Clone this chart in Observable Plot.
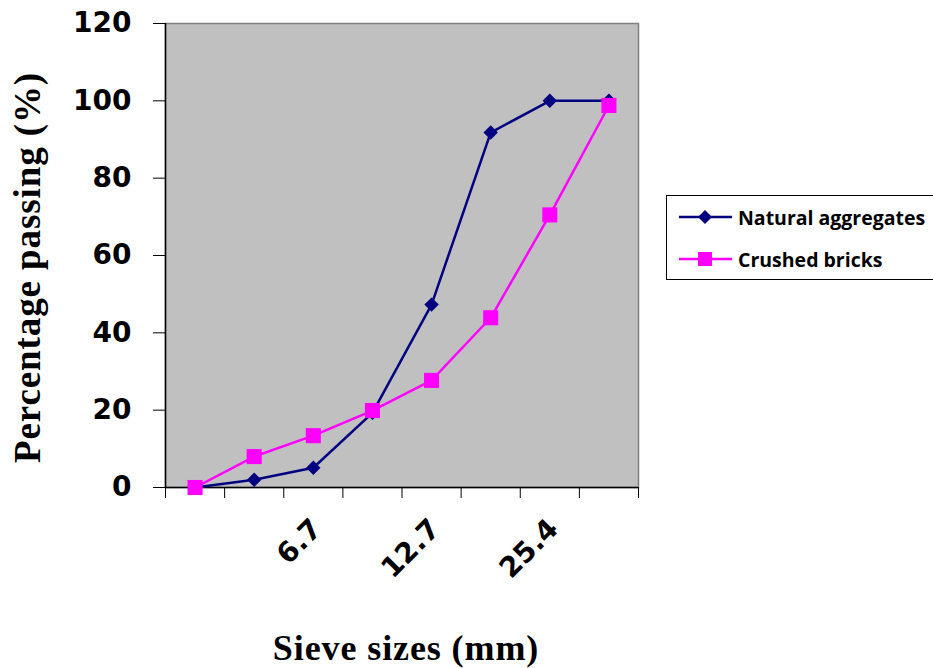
<!DOCTYPE html>
<html><head><meta charset="utf-8">
<script src="https://cdn.jsdelivr.net/npm/d3@7"></script>
<script src="https://cdn.jsdelivr.net/npm/@observablehq/plot@0.6"></script>
<style>
body{margin:0;background:#fff;}
#wrap{position:relative;width:933px;height:668px;overflow:hidden;}
#legend{position:absolute;left:666px;top:195px;width:290px;height:85px;border:1px solid #000;box-sizing:border-box;background:#fff;font-family:"Open Sans",sans-serif;font-weight:bold;font-size:19.5px;color:#000;}
.item{position:absolute;left:12px;height:24px;display:flex;align-items:center;}
.item svg{margin-right:6px;}
</style>
</head><body>
<div id="wrap"><div id="legend"></div></div>
<script>
// Data
const sieveLabels = ["", "", "6.7", "", "12.7", "", "25.4", ""];
const seriesNames = ["Natural aggregates", "Crushed bricks"];
const naturalValues = [0, 2, 5.1, 19.3, 47.3, 91.8, 100, 100];
const crushedValues = [0, 8, 13.4, 19.9, 27.7, 43.9, 70.5, 98.8];
const yTicks = [0, 20, 40, 60, 80, 100, 120];
const colors = ["#000080", "#ff00ff"];
const yTitle = "Percentage passing (%)";
const xTitle = "Sieve sizes (mm)";

const natural = naturalValues.map((v, i) => ({i: i + 0.5, v}));
const crushed = crushedValues.map((v, i) => ({i: i + 0.5, v}));
const shown = sieveLabels.map((label, i) => ({i: i + 0.5, label})).filter(d => d.label);

const tickFont = {fontFamily: "DejaVu Sans", fontWeight: "bold", fontSize: 28};

const chart = Plot.plot({
  width: 933, height: 668,
  marginLeft: 165, marginRight: 295, marginTop: 23, marginBottom: 181,
  x: {domain: [0, sieveLabels.length]},
  y: {domain: [0, 120]},
  style: {background: "transparent", color: "#000"},
  marks: [
    Plot.frame({fill: "#c0c0c0", stroke: "#808080", strokeWidth: 1.5}),
    Plot.ruleX([0], {stroke: "#000", strokeWidth: 1.5}),
    Plot.ruleY([0], {stroke: "#000", strokeWidth: 1.5}),
    Plot.axisY({ticks: yTicks, tickSize: 12, tickPadding: 22, label: null, ...tickFont, stroke: "#000"}),
    Plot.axisX({ticks: d3.range(0, sieveLabels.length + 1), tickFormat: () => "", tickSize: 11, label: null, stroke: "#000"}),
    Plot.text(shown, {x: "i", text: "label", frameAnchor: "bottom", dy: 29, dx: -4, rotate: -45, textAnchor: "end", lineAnchor: "top", ...tickFont}),
    Plot.lineY(natural, {x: "i", y: "v", stroke: colors[0], strokeWidth: 2.5}),
    Plot.dot(natural, {x: "i", y: "v", symbol: "diamond2", fill: colors[0], r: 6.5}),
    Plot.lineY(crushed, {x: "i", y: "v", stroke: colors[1], strokeWidth: 2.5}),
    Plot.dot(crushed, {x: "i", y: "v", symbol: "square", fill: colors[1], r: 8.5}),
    Plot.text([yTitle], {frameAnchor: "left", dx: -137, dy: 12, rotate: -90, textAnchor: "middle", lineAnchor: "middle", fontFamily: "Liberation Serif", fontWeight: "bold", fontSize: 37}),
    Plot.text([xTitle], {frameAnchor: "bottom", dy: 161, dx: 4, textAnchor: "middle", lineAnchor: "middle", fontFamily: "Liberation Serif", fontWeight: "bold", fontSize: 36})
  ]
});
d3.select(chart).selectAll("text").filter(function() { return this.textContent === yTitle || this.textContent === xTitle; })
  .style("letter-spacing", "0.9px");
document.getElementById("wrap").prepend(chart);

// Legend
const legend = document.getElementById("legend");
const symbols = [
  '<polygon points="26,4 33,11 26,18 19,11" fill="' + colors[0] + '"/>',
  '<rect x="19" y="4" width="14" height="14" fill="' + colors[1] + '"/>'
];
seriesNames.forEach((name, k) => {
  const div = document.createElement("div");
  div.className = "item";
  div.style.top = (9 + k * 42) + "px";
  div.innerHTML = '<svg width="53" height="22"><line x1="0" y1="11" x2="53" y2="11" stroke="' + colors[k] + '" stroke-width="2.5"/>' + symbols[k] + '</svg><span>' + name + '</span>';
  legend.appendChild(div);
});
</script>
</body></html>
